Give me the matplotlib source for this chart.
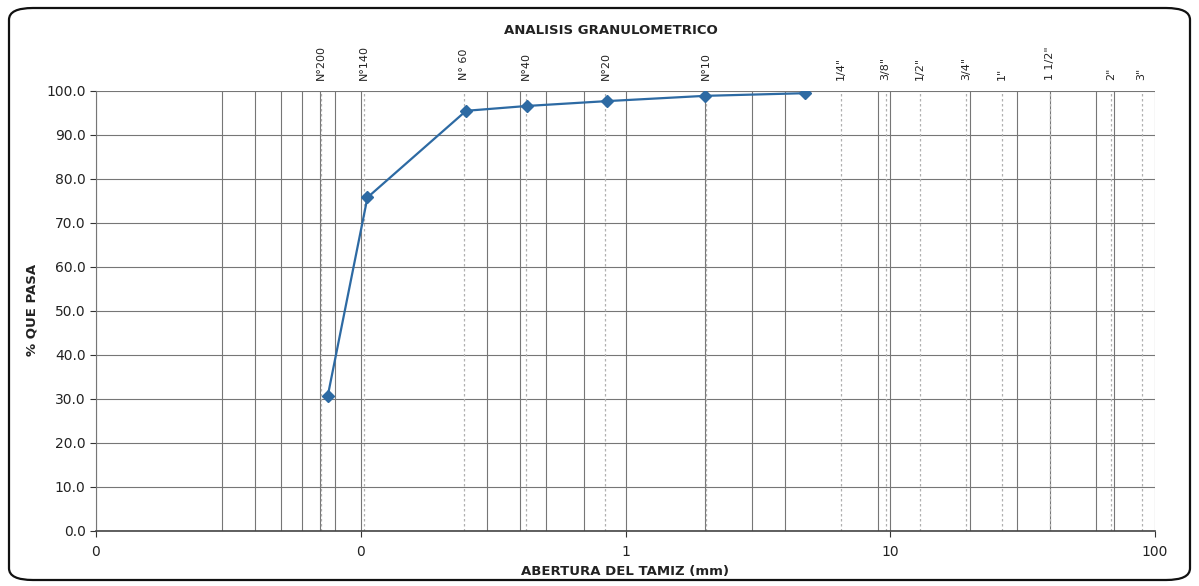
import matplotlib
matplotlib.use('Agg')
import matplotlib.pyplot as plt
from matplotlib.patches import FancyBboxPatch
from matplotlib.ticker import FixedLocator, FixedFormatter, NullLocator

# Data
abertura = [0.075, 0.106, 0.25, 0.425, 0.85, 2.0, 4.75]
pasa = [30.6, 75.8, 95.5, 96.6, 97.7, 98.9, 99.5]

# Sieve reference lines (dashed) and their labels
tamices = ['N°200', 'N°140', 'N° 60', 'N°40', 'N°20', 'N°10', '1/4"', '3/8"',
           '1/2"', '3/4"', '1"', '1 1/2"', '2"', '3"']
tamiz_mm = [0.071, 0.103, 0.245, 0.42, 0.84, 2.02, 6.5, 9.6, 12.9, 19.3,
            26.5, 40.0, 68.0, 89.0]

# Solid vertical gridlines visible in the chart
grid_x = [0.01, 0.03, 0.04, 0.05, 0.06, 0.07, 0.08, 0.1, 0.3, 0.4, 0.5, 0.7,
          1, 2, 3, 4, 9, 10, 20, 30, 40, 60, 70, 100]
x_ticks = [0.01, 0.1, 1, 10, 100]
x_ticklabels = ['0', '0', '1', '10', '100']
y_ticks = [0, 10, 20, 30, 40, 50, 60, 70, 80, 90, 100]

fig = plt.figure(figsize=(11.99, 5.86), dpi=100)
ax = fig.add_axes([96 / 1199, 1 - 531 / 586, (1155 - 96) / 1199, (531 - 91) / 586])

ax.set_xscale('log')
ax.set_xlim(0.01, 100)
ax.set_ylim(0, 100)

grid_color = '#767676'
for y in y_ticks:
    ax.axhline(y, color=grid_color, lw=0.8, zorder=1)
for x in grid_x:
    ax.axvline(x, color=grid_color, lw=0.8, zorder=1)
for x in tamiz_mm:
    ax.axvline(x, color='#b0b0b0', lw=0.9, ls=(0, (2, 2)), zorder=1)

ax.plot(abertura, pasa, color='#2d6aa3', lw=1.6, marker='D', ms=6,
        markerfacecolor='#2d6aa3', markeredgecolor='#2d6aa3', zorder=3)

for name, x in zip(tamices, tamiz_mm):
    ax.text(x, 102.5, name, rotation=90, ha='center', va='bottom',
            fontsize=8, color='#222222', clip_on=False)

ax.xaxis.set_major_locator(FixedLocator(x_ticks))
ax.xaxis.set_major_formatter(FixedFormatter(x_ticklabels))
ax.xaxis.set_minor_locator(NullLocator())
ax.set_yticks(y_ticks)
ax.set_yticklabels([f'{v:.1f}' for v in y_ticks])
ax.tick_params(axis='both', labelsize=10, colors='#333333', length=4,
               width=0.8, labelcolor='#222222')
ax.tick_params(axis='x', pad=6)

for side in ['top', 'right']:
    ax.spines[side].set_visible(False)
ax.spines['left'].set_color(grid_color)
ax.spines['bottom'].set_color('#444444')
ax.spines['bottom'].set_linewidth(1.2)

fig.text(611 / 1199, 1 - 30 / 586, 'ANALISIS GRANULOMETRICO', ha='center',
         va='center', fontsize=9.5, fontweight='bold', color='#222222')
fig.text(32 / 1199, 1 - 310 / 586, '% QUE PASA', rotation=90, ha='center',
         va='center', fontsize=9.5, fontweight='bold', color='#222222')
fig.text(625 / 1199, 1 - 572 / 586, 'ABERTURA DEL TAMIZ (mm)', ha='center',
         va='center', fontsize=9.5, fontweight='bold', color='#222222')

frame = FancyBboxPatch((9 / 1199, 6 / 586), 1181 / 1199, 572 / 586,
                       boxstyle='round,pad=0,rounding_size=0.02',
                       transform=fig.transFigure, fill=False,
                       edgecolor='#111111', lw=1.6)
fig.patches.append(frame)

fig.savefig('out.png', dpi=100)
